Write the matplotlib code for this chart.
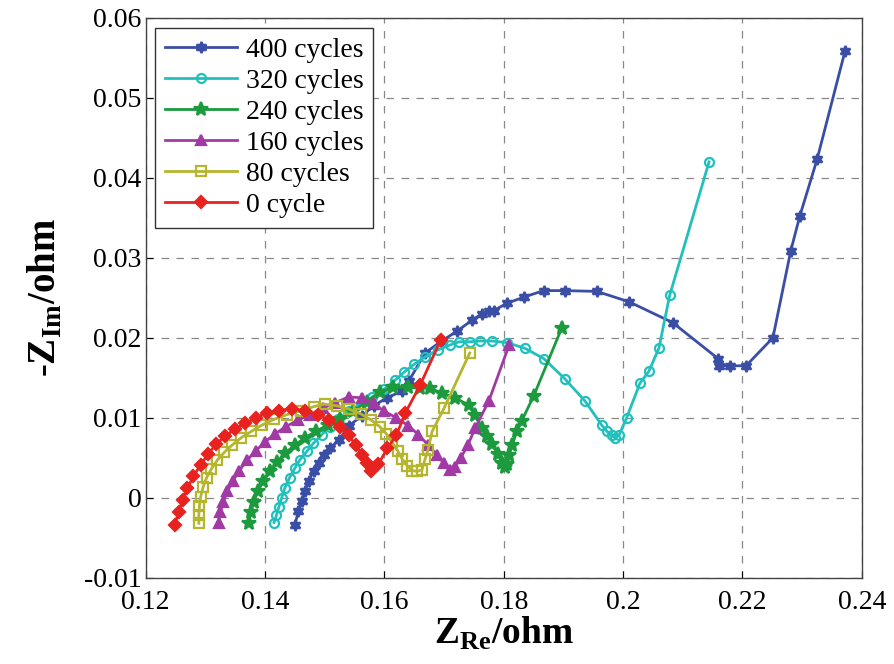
import matplotlib
matplotlib.use('Agg')
import matplotlib.pyplot as plt
from matplotlib.ticker import FuncFormatter

plt.rcParams['font.family'] = ['Liberation Serif', 'DejaVu Serif']
plt.rcParams['mathtext.fontset'] = 'custom'
plt.rcParams['mathtext.rm'] = 'Liberation Serif:bold'
plt.rcParams['mathtext.bf'] = 'Liberation Serif:bold'

# 400 cycles
x_400 = [0.1450, 0.1456, 0.1462, 0.1467, 0.1473, 0.1482, 0.1490, 0.1498, 0.1508,
         0.1524, 0.1540, 0.1562, 0.1582, 0.1604, 0.1629, 0.1641, 0.1668, 0.1696,
         0.1721, 0.1747, 0.1763, 0.1775, 0.1783, 0.1805, 0.1834, 0.1867, 0.1902,
         0.1956, 0.2010, 0.2083, 0.2159, 0.2160, 0.2179, 0.2206, 0.2251, 0.2281,
         0.2296, 0.2325, 0.2372]
y_400 = [-0.0034, -0.0016, -0.0004, 0.0009, 0.0021, 0.0034, 0.0044, 0.0054, 0.0062,
         0.0072, 0.0090, 0.0102, 0.0115, 0.0125, 0.0133, 0.0146, 0.0181, 0.0196,
         0.0208, 0.0222, 0.0230, 0.0233, 0.0234, 0.0243, 0.0251, 0.0259, 0.0259,
         0.0258, 0.0245, 0.0219, 0.0174, 0.0165, 0.0165, 0.0165, 0.0200, 0.0309,
         0.0352, 0.0423, 0.0559]

# 320 cycles
x_320 = [0.1415, 0.1419, 0.1423, 0.1428, 0.1433, 0.1441, 0.1450, 0.1458, 0.1470,
         0.1481, 0.1495, 0.1508, 0.1522, 0.1540, 0.1560, 0.1580, 0.1600, 0.1618,
         0.1633, 0.1650, 0.1668, 0.1690, 0.1710, 0.1725, 0.1743, 0.1760, 0.1780,
         0.1805, 0.1835, 0.1867, 0.1902, 0.1936, 0.1964, 0.1973, 0.1981, 0.1986,
         0.1993, 0.2006, 0.2028, 0.2043, 0.2060, 0.2078, 0.2144]
y_320 = [-0.0031, -0.0022, -0.0012, 0.0000, 0.0012, 0.0025, 0.0037, 0.0047, 0.0058,
         0.0068, 0.0079, 0.0089, 0.0099, 0.0108, 0.0117, 0.0126, 0.0136, 0.0147,
         0.0157, 0.0167, 0.0176, 0.0185, 0.0191, 0.0195, 0.0195, 0.0196, 0.0196,
         0.0194, 0.0187, 0.0174, 0.0149, 0.0121, 0.0091, 0.0083, 0.0078, 0.0075,
         0.0078, 0.0100, 0.0143, 0.0158, 0.0187, 0.0253, 0.0420]

# 240 cycles
x_240 = [0.1373, 0.1376, 0.1381, 0.1388, 0.1397, 0.1408, 0.1420, 0.1434, 0.1450,
         0.1467, 0.1485, 0.1505, 0.1525, 0.1547, 0.1570, 0.1592, 0.1615, 0.1640,
         0.1660, 0.1676, 0.1696, 0.1718, 0.1741, 0.1752, 0.1763, 0.1772, 0.1780,
         0.1790, 0.1797, 0.1802, 0.1806, 0.1809, 0.1814, 0.1822, 0.1830, 0.1850,
         0.1897]
y_240 = [-0.0031, -0.0018, -0.0005, 0.0008, 0.0021, 0.0033, 0.0045, 0.0056, 0.0066,
         0.0075, 0.0083, 0.0091, 0.0099, 0.0108, 0.0120, 0.0132, 0.0138, 0.0138,
         0.0137, 0.0137, 0.0131, 0.0125, 0.0116, 0.0103, 0.0087, 0.0077, 0.0067,
         0.0055, 0.0044, 0.0038, 0.0042, 0.0054, 0.0066, 0.0083, 0.0096, 0.0127,
         0.0212]

# 160 cycles
x_160 = [0.1322, 0.1325, 0.1330, 0.1337, 0.1346, 0.1357, 0.1370, 0.1385, 0.1400,
         0.1417, 0.1435, 0.1455, 0.1475, 0.1497, 0.1518, 0.1540, 0.1562, 0.1582,
         0.1600, 0.1620, 0.1640, 0.1657, 0.1673, 0.1688, 0.1700, 0.1710, 0.1718,
         0.1728, 0.1740, 0.1752, 0.1775, 0.1809]
y_160 = [-0.0031, -0.0018, -0.0005, 0.0008, 0.0021, 0.0034, 0.0047, 0.0059, 0.0070,
         0.0080, 0.0089, 0.0097, 0.0104, 0.0112, 0.0119, 0.0126, 0.0125, 0.0118,
         0.0108, 0.0100, 0.0090, 0.0079, 0.0066, 0.0053, 0.0043, 0.0035, 0.0038,
         0.0050, 0.0066, 0.0087, 0.0121, 0.0191]

# 80 cycles
x_80 = [0.1289, 0.1289, 0.1290, 0.1292, 0.1296, 0.1302, 0.1310, 0.1320, 0.1332,
        0.1345, 0.1360, 0.1377, 0.1395, 0.1415, 0.1437, 0.1460, 0.1482, 0.1500,
        0.1520, 0.1540, 0.1560, 0.1578, 0.1592, 0.1603, 0.1612, 0.1622, 0.1630,
        0.1638, 0.1646, 0.1655, 0.1663, 0.1668, 0.1673, 0.1680, 0.1700, 0.1743]
y_80 = [-0.0032, -0.0021, -0.0010, 0.0001, 0.0013, 0.0025, 0.0036, 0.0047, 0.0057,
        0.0066, 0.0075, 0.0083, 0.0091, 0.0098, 0.0104, 0.0109, 0.0114, 0.0117,
        0.0115, 0.0111, 0.0105, 0.0097, 0.0089, 0.0080, 0.0070, 0.0059, 0.0048,
        0.0040, 0.0034, 0.0033, 0.0035, 0.0048, 0.0060, 0.0083, 0.0112, 0.0181]

# 0 cycle
x_0 = [0.1249, 0.1255, 0.1262, 0.1270, 0.1280, 0.1292, 0.1305, 0.1318, 0.1333,
       0.1350, 0.1367, 0.1385, 0.1403, 0.1423, 0.1445, 0.1467, 0.1488, 0.1507,
       0.1525, 0.1540, 0.1552, 0.1562, 0.1570, 0.1578, 0.1590, 0.1605, 0.1620,
       0.1635, 0.1660, 0.1694]
y_0 = [-0.0034, -0.0018, -0.0003, 0.0012, 0.0027, 0.0041, 0.0055, 0.0067, 0.0077,
       0.0086, 0.0093, 0.0100, 0.0106, 0.0109, 0.0111, 0.0109, 0.0104, 0.0097,
       0.0089, 0.0078, 0.0066, 0.0054, 0.0043, 0.0033, 0.0042, 0.0062, 0.0078,
       0.0106, 0.0141, 0.0197]

labels = ['400 cycles', '320 cycles', '240 cycles', '160 cycles', '80 cycles', '0 cycle']
x_ticks = [0.12, 0.14, 0.16, 0.18, 0.2, 0.22, 0.24]
y_ticks = [-0.01, 0, 0.01, 0.02, 0.03, 0.04, 0.05, 0.06]

series = [
    (x_400, y_400, '#3a4ea6', (6, 1, 0), True),
    (x_320, y_320, '#22c0bd', 'o', False),
    (x_240, y_240, '#1c9a3e', '*', True),
    (x_160, y_160, '#a23aa6', '^', True),
    (x_80, y_80, '#b4b62e', 's', False),
    (x_0, y_0, '#e8231f', 'D', True),
]

fig = plt.figure(figsize=(8.94, 6.64), dpi=100)
ax = fig.add_axes([0.163, 0.13, 0.801, 0.843])

for (xs, ys, col, mk, filled), lab in zip(series, labels):
    ms = 6.5
    if mk == '*':
        ms = 10
    elif mk == 'D':
        ms = 6
    elif mk == (6, 1, 0):
        ms = 8
    ax.plot(xs, ys, color=col, lw=2, marker=mk, markersize=ms,
            markerfacecolor=col if filled else 'none',
            markeredgecolor=col, markeredgewidth=1.6, label=lab)

ax.set_xlim(0.12, 0.24)
ax.set_ylim(-0.01, 0.06)
ax.set_xticks(x_ticks)
ax.set_yticks(y_ticks)
ax.xaxis.set_major_formatter(FuncFormatter(lambda v, p: '%g' % round(v, 4)))
ax.yaxis.set_major_formatter(FuncFormatter(lambda v, p: '%g' % round(v, 4)))
ax.tick_params(direction='in', labelsize=20, length=5, width=0.8,
               top=False, right=False)
ax.tick_params(axis='x', pad=9)
ax.tick_params(axis='y', pad=3)
ax.grid(True, color='#888888', linestyle=(0, (6, 6)), linewidth=0.9)
for sp in ax.spines.values():
    sp.set_color('#444444')
    sp.set_linewidth(1.0)

ax.set_xlabel(r'Z$_{\mathbf{Re}}$/ohm', fontsize=27, fontweight='bold', labelpad=0)
ax.set_ylabel(r'-Z$_{\mathbf{Im}}$/ohm', fontsize=28, fontweight='bold', labelpad=14)

leg = ax.legend(loc='upper left', fontsize=20, handlelength=2.6, borderpad=0.35,
                labelspacing=0.2, handletextpad=0.3, fancybox=False,
                framealpha=1, borderaxespad=0.35)
leg.get_frame().set_edgecolor('#333333')
leg.get_frame().set_linewidth(1.0)

fig.savefig('out.png', dpi=100)
